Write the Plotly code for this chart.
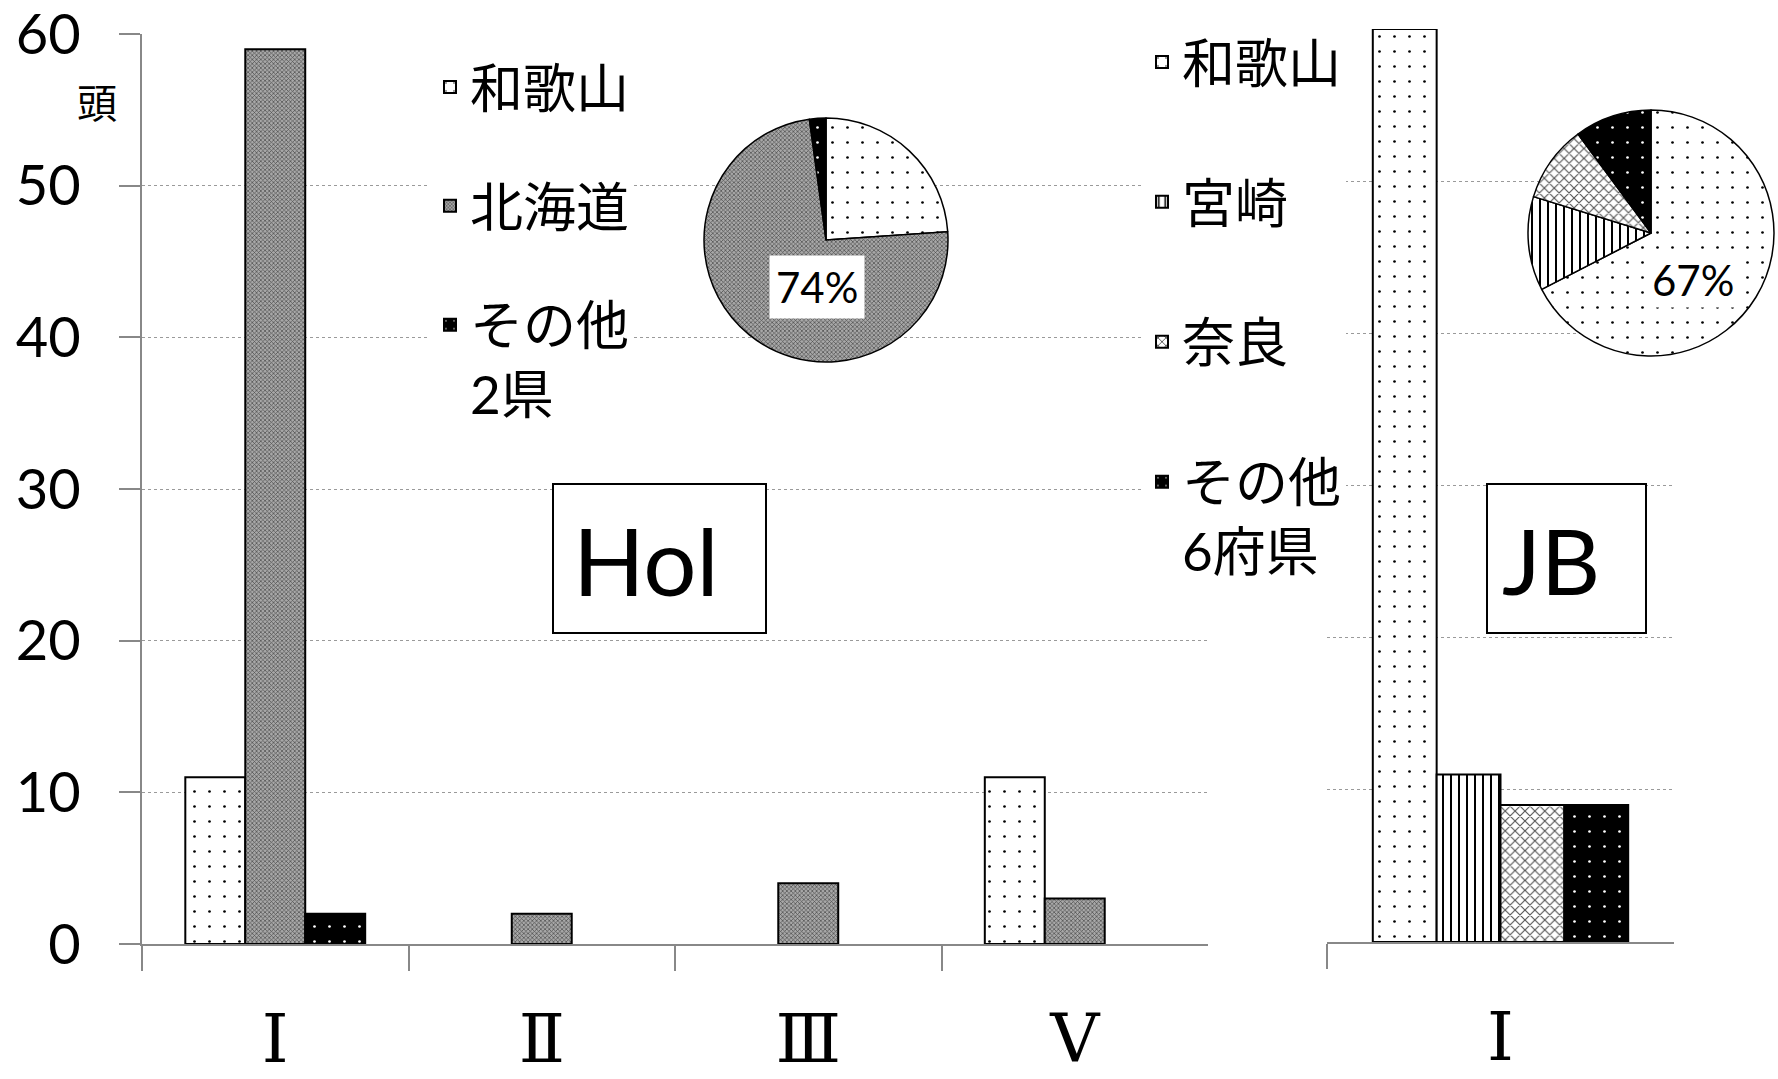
import plotly.graph_objects as go

# --- data ---
hol_classes = ['Ⅰ', 'Ⅱ', 'Ⅲ', 'Ⅴ']
hol_names = ['和歌山', '北海道', 'その他<br>2県']
hol_wakayama = [11, 0, 0, 11]
hol_hokkaido = [59, 2, 4, 3]
hol_other = [2, 0, 0, 0]

jb_classes = ['Ⅰ']
jb_names = ['和歌山', '宮崎', '奈良', 'その他<br>6府県']
jb_wakayama = [60]
jb_miyazaki = [11]
jb_nara = [9]
jb_other = [9]

y_ticks = [0, 10, 20, 30, 40, 50, 60]

W, H = 1778, 1079


def px(x):
    return x / W


def py(y):
    return 1 - y / H


FONT = 'Lato, Noto Sans CJK JP, sans-serif'
GRID = '#9a9a9a'
AXIS = '#888888'

# bar fills
styles = {
    'dots': dict(color='white', pattern=dict(shape='.', fgcolor='black', bgcolor='white', size=15, solidity=0.025)),
    'gray': dict(color='#888888', pattern=dict(shape='x', fgcolor='#4a4a4a', bgcolor='#a8a8a8', size=3, solidity=0.4)),
    'black': dict(color='black', pattern=dict(shape='.', fgcolor='white', bgcolor='black', size=15, solidity=0.025)),
    'vlines': dict(color='white', pattern=dict(shape='|', fgcolor='black', bgcolor='white', size=8, solidity=0.25)),
    'wave': dict(color='white', pattern=dict(shape='x', fgcolor='#555555', bgcolor='white', size=7, solidity=0.3)),
}


def nz(vals):
    # zero counts are simply not drawn in the original
    return [v if v else None for v in vals]


fig = go.Figure()

# Hol bars
hol_series = [hol_wakayama, hol_hokkaido, hol_other]
hol_styles = ['dots', 'gray', 'black']
w1 = 0.225
for i, (name, vals, st) in enumerate(zip(hol_names, hol_series, hol_styles)):
    fig.add_trace(go.Bar(
        x=hol_classes, y=nz(vals), name=name, xaxis='x', yaxis='y',
        width=w1, offset=(i - 1.5) * w1,
        marker=dict(color=styles[st]['color'],
                    pattern=dict(fillmode='replace', **styles[st]['pattern']),
                    line=dict(color='black', width=2)),
        legend='legend', legendgroup='h%d' % i,
    ))

# JB bars
jb_series = [jb_wakayama, jb_miyazaki, jb_nara, jb_other]
jb_styles = ['dots', 'vlines', 'wave', 'black']
w2 = 0.184
for i, (name, vals, st) in enumerate(zip(jb_names, jb_series, jb_styles)):
    fig.add_trace(go.Bar(
        x=jb_classes, y=nz(vals), name=name, xaxis='x2', yaxis='y2',
        width=w2, offset=(i - 2) * w2,
        marker=dict(color=styles[st]['color'],
                    pattern=dict(fillmode='replace', **styles[st]['pattern']),
                    line=dict(color='black', width=2)),
        legend='legend2', legendgroup='j%d' % i,
    ))


def pie_marker(keys):
    return dict(
        colors=[styles[s]['color'] for s in keys],
        pattern=dict(shape=[styles[s]['pattern']['shape'] for s in keys],
                     fgcolor=[styles[s]['pattern']['fgcolor'] for s in keys],
                     bgcolor=[styles[s]['pattern']['bgcolor'] for s in keys],
                     size=[styles[s]['pattern']['size'] for s in keys],
                     solidity=[styles[s]['pattern']['solidity'] for s in keys],
                     fillmode='replace'),
        line=dict(color='black', width=1.5))


# pies of totals
hol_tot = [sum(s) for s in hol_series]
jb_tot = [sum(s) for s in jb_series]
fig.add_trace(go.Pie(
    labels=hol_names, values=hol_tot, sort=False, direction='clockwise',
    textinfo='none', showlegend=False, hoverinfo='label+percent',
    domain=dict(x=[px(704), px(948)], y=[py(362), py(118)]),
    marker=pie_marker(hol_styles),
))
fig.add_trace(go.Pie(
    labels=jb_names, values=jb_tot, sort=False, direction='clockwise',
    textinfo='none', showlegend=False, hoverinfo='label+percent',
    domain=dict(x=[px(1528), px(1774)], y=[py(356), py(110)]),
    marker=pie_marker(jb_styles),
))

hol_pct = '{:.0%}'.format(hol_tot[1] / sum(hol_tot))
jb_pct = '{:.0%}'.format(jb_tot[0] / sum(jb_tot))

xcommon = dict(type='category', showline=True, linecolor=AXIS, linewidth=2,
               ticks='outside', tickson='boundaries', ticklen=25, tickwidth=2, tickcolor=AXIS,
               showgrid=False, automargin=False, ticklabeloverflow='allow',
               tickfont=dict(family='DejaVu Serif, Noto Sans CJK JP', size=68, color='black'),
               ticklabelstandoff=34, fixedrange=True)

fig.update_layout(
    width=W, height=H,
    margin=dict(l=0, r=0, t=0, b=0, autoexpand=False),
    paper_bgcolor='white', plot_bgcolor='rgba(0,0,0,0)',
    font=dict(family=FONT, color='black'),
    barmode='overlay',
    xaxis=dict(domain=[px(142), px(1208)], anchor='y', range=[-0.5, 3.5], **xcommon),
    yaxis=dict(domain=[py(944), py(34)], anchor='x', range=[0, 60], tickvals=y_ticks,
               showline=True, linecolor=AXIS, linewidth=2, ticks='outside', ticklen=21,
               tickwidth=2, tickcolor=AXIS, showgrid=True, gridcolor=GRID, gridwidth=1,
               griddash='dot', zeroline=False, ticklabelstandoff=27, automargin=False,
               ticklabeloverflow='allow',
               tickfont=dict(family=FONT, size=56, color='black')),
    xaxis2=dict(domain=[px(1327), px(1674)], anchor='y2', range=[-0.5, 0.5], **xcommon),
    yaxis2=dict(domain=[py(942), py(29)], anchor='x2', range=[0, 60], tickvals=y_ticks,
                showline=False, ticks='', showticklabels=False, showgrid=True,
                gridcolor=GRID, gridwidth=1, griddash='dot', zeroline=False, automargin=False),
    legend=dict(x=px(430), y=py(46), xanchor='left', yanchor='top',
                bgcolor='white', font=dict(family=FONT, size=53, color='black'),
                tracegroupgap=47, valign='top', itemclick=False),
    legend2=dict(x=px(1142), y=py(21), xanchor='left', yanchor='top',
                 bgcolor='white', font=dict(family=FONT, size=53, color='black'),
                 tracegroupgap=68, valign='top', itemclick=False),
    showlegend=True,
)

# class name boxes
for x0, x1 in [(553, 766), (1487, 1646)]:
    fig.add_shape(type='rect', xref='paper', yref='paper',
                  x0=px(x0), x1=px(x1), y0=py(633), y1=py(484),
                  fillcolor='white', line=dict(color='black', width=2), layer='above')

ann = dict(xref='paper', yref='paper', showarrow=False, xanchor='center', yanchor='middle')
# unit label, class names, pie percentages
fig.add_annotation(text='頭', x=px(97), y=py(103), font=dict(family=FONT, size=40), **ann)
fig.add_annotation(text='Hol', x=px(646), y=py(559), font=dict(family=FONT, size=94), **ann)
fig.add_annotation(text='JB', x=px(1551), y=py(559), font=dict(family=FONT, size=92), **ann)
fig.add_annotation(text=hol_pct, x=px(817), y=py(287), font=dict(family=FONT, size=42),
                   bgcolor='white', borderpad=6, **ann)
fig.add_annotation(text=jb_pct, x=px(1693), y=py(280), font=dict(family=FONT, size=42),
                   bgcolor='white', borderpad=2, **ann)

fig.write_html('out.html', config={'displayModeBar': False},
               post_script="document.body.style.margin='0';")
